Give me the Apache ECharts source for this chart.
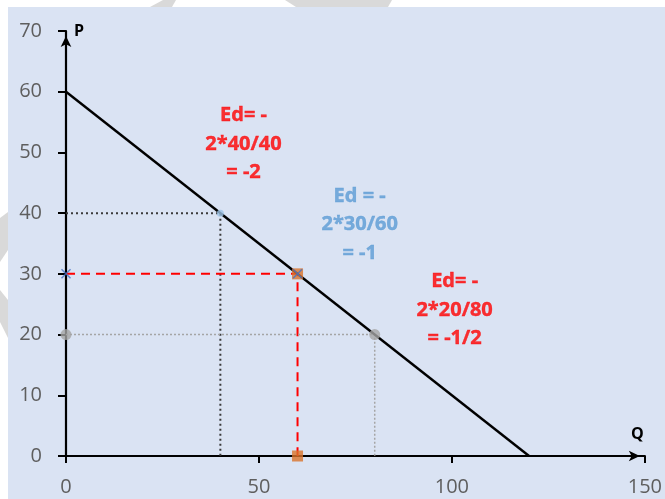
<!DOCTYPE html>
<html>
<head>
<meta charset="utf-8">
<script src="https://cdn.jsdelivr.net/npm/echarts@6/dist/echarts.min.js"></script>
<style>
html,body{margin:0;padding:0;background:#fff;}
#chart{width:665px;height:499px;}
</style>
</head>
<body>
<div id="chart"></div>
<script>
// ---- data ----
const demandQ = [0, 120];
const demandP = [60, 0];
const xTicks = [0, 50, 100, 150];
const yTicks = [0, 10, 20, 30, 40, 50, 60, 70];
// highlighted points on demand curve (Q, P)
const ptQ = [40, 60, 80];
const ptP = [40, 30, 20];
// annotation texts and anchor positions (data coords of middle line)
const noteLines = [
  ['Ed= -', '2*40/40', '= -2'],
  ['Ed = -', '2*30/60', '= -1'],
  ['Ed= -', '2*20/80', '= -1/2']
];
const noteQ = [46.0, 76.1, 100.7];
const noteP = [51.4, 38.1, 24.0];
const noteColors = ['#FF0000', '#5B9BD5', '#FF0000'];

const chart = echarts.init(document.getElementById('chart'), null, {renderer: 'canvas'});

function guide(i) {
  return [[0, ptP[i]], [ptQ[i], ptP[i]], [ptQ[i], 0]];
}
const xPath = 'path://M0,1L1,0L5,4L9,0L10,1L6,5L10,9L9,10L5,6L1,10L0,9L4,5Z';

const noteSeries = noteLines.map((lines, i) => ({
  type: 'scatter',
  data: [[noteQ[i], noteP[i]]],
  symbolSize: 0,
  silent: true,
  z: 20,
  label: {
    show: true,
    position: 'inside',
    formatter: lines.join('\n'),
    color: noteColors[i],
    fontFamily: 'Open Sans',
    fontWeight: 'bold',
    fontSize: 20,
    lineHeight: 28.5,
    align: 'center',
    verticalAlign: 'middle',
    textBorderColor: noteColors[i],
    textBorderWidth: 0.4
  }
}));

const option = {
  animation: false,
  backgroundColor: '#ffffff',
  graphic: [
    {type: 'polygon', z: -20, silent: true, shape: {points: [[150,7],[163,0],[176,0],[172,7]]}, style: {fill: '#d9d9d9'}},
    {type: 'polygon', z: -20, silent: true, shape: {points: [[285,0],[392,0],[388,7],[296,7]]}, style: {fill: '#d9d9d9'}},
    {type: 'polygon', z: -20, silent: true, shape: {points: [[0,218],[8,212],[8,250],[0,262]]}, style: {fill: '#d9d9d9'}},
    {type: 'polygon', z: -20, silent: true, shape: {points: [[0,290],[8,300],[8,338],[0,322]]}, style: {fill: '#d9d9d9'}},
    {type: 'rect', z: -10, silent: true, shape: {x: 8, y: 7, width: 657, height: 492}, style: {fill: '#DAE3F3'}}
  ],
  grid: {left: 66, right: 17, top: 31, bottom: 43, containLabel: false},
  xAxis: {
    type: 'value', min: 0, max: 150, interval: 50,
    name: 'Q', nameLocation: 'end', nameGap: -1,
    nameTextStyle: {color: '#000', fontFamily: 'Open Sans', fontWeight: 'bold', fontSize: 16, align: 'right', verticalAlign: 'bottom', padding: [0, 0, 14, 0]},
    axisLine: {show: true, onZero: false, lineStyle: {color: '#000', width: 2.2}, symbol: ['none', 'arrow'], symbolSize: [8, 11], symbolOffset: [0, -5]},
    axisTick: {show: true, length: 7, lineStyle: {color: '#000', width: 2}},
    axisLabel: {color: '#5e5e5e', fontFamily: 'Open Sans', fontSize: 20, margin: 21, formatter: v => xTicks.includes(v) ? String(v) : ''},
    splitLine: {show: false}
  },
  yAxis: {
    type: 'value', min: 0, max: 70, interval: 10,
    name: 'P', nameLocation: 'end', nameGap: 0,
    nameTextStyle: {color: '#000', fontFamily: 'Open Sans', fontWeight: 'bold', fontSize: 16, align: 'left', verticalAlign: 'middle', padding: [0, 0, 0, 8]},
    axisLine: {show: true, onZero: false, lineStyle: {color: '#000', width: 2.2}, symbol: ['none', 'arrow'], symbolSize: [8, 11], symbolOffset: [0, -5]},
    axisTick: {show: true, length: 8, lineStyle: {color: '#000', width: 2}},
    axisLabel: {color: '#5e5e5e', fontFamily: 'Open Sans', fontSize: 20, margin: 24, formatter: v => yTicks.includes(v) ? String(v) : ''},
    splitLine: {show: false}
  },
  series: [
    {
      type: 'line', data: guide(0), symbol: 'none', silent: true, z: 3,
      lineStyle: {color: '#3a3a3a', width: 2, type: [2, 3]}
    },
    {
      type: 'line', data: guide(1), symbol: 'none', silent: true, z: 3,
      lineStyle: {color: '#FF0000', width: 2, type: [9, 6]}
    },
    {
      type: 'line', data: guide(2), symbol: 'none', silent: true, z: 3,
      lineStyle: {color: '#a5a5a5', width: 1.5, type: [2, 2]}
    },
    {
      type: 'line', data: demandQ.map((q, i) => [q, demandP[i]]), symbol: 'none', silent: true, z: 4,
      lineStyle: {color: '#000', width: 2.4}
    },
    {
      type: 'scatter', data: [[ptQ[0], ptP[0]]], symbol: 'circle', symbolSize: 7, z: 6,
      itemStyle: {color: '#9DC3E6'}
    },
    {
      type: 'scatter', data: [[0, ptP[2]], [ptQ[2], ptP[2]]], symbol: 'circle', symbolSize: 11, z: 6,
      itemStyle: {color: '#A5A5A5'}
    },
    {
      type: 'scatter', data: [[ptQ[1], ptP[1]], [ptQ[1], 0]], symbol: 'rect', symbolSize: 11, z: 6,
      itemStyle: {color: '#D9732B'}
    },
    {
      type: 'scatter', data: [[0, ptP[1]], [ptQ[1], ptP[1]]], symbol: xPath, symbolSize: 10, z: 7,
      itemStyle: {color: '#4472C4'}
    }
  ].concat(noteSeries)
};
chart.setOption(option);
</script>
</body>
</html>
